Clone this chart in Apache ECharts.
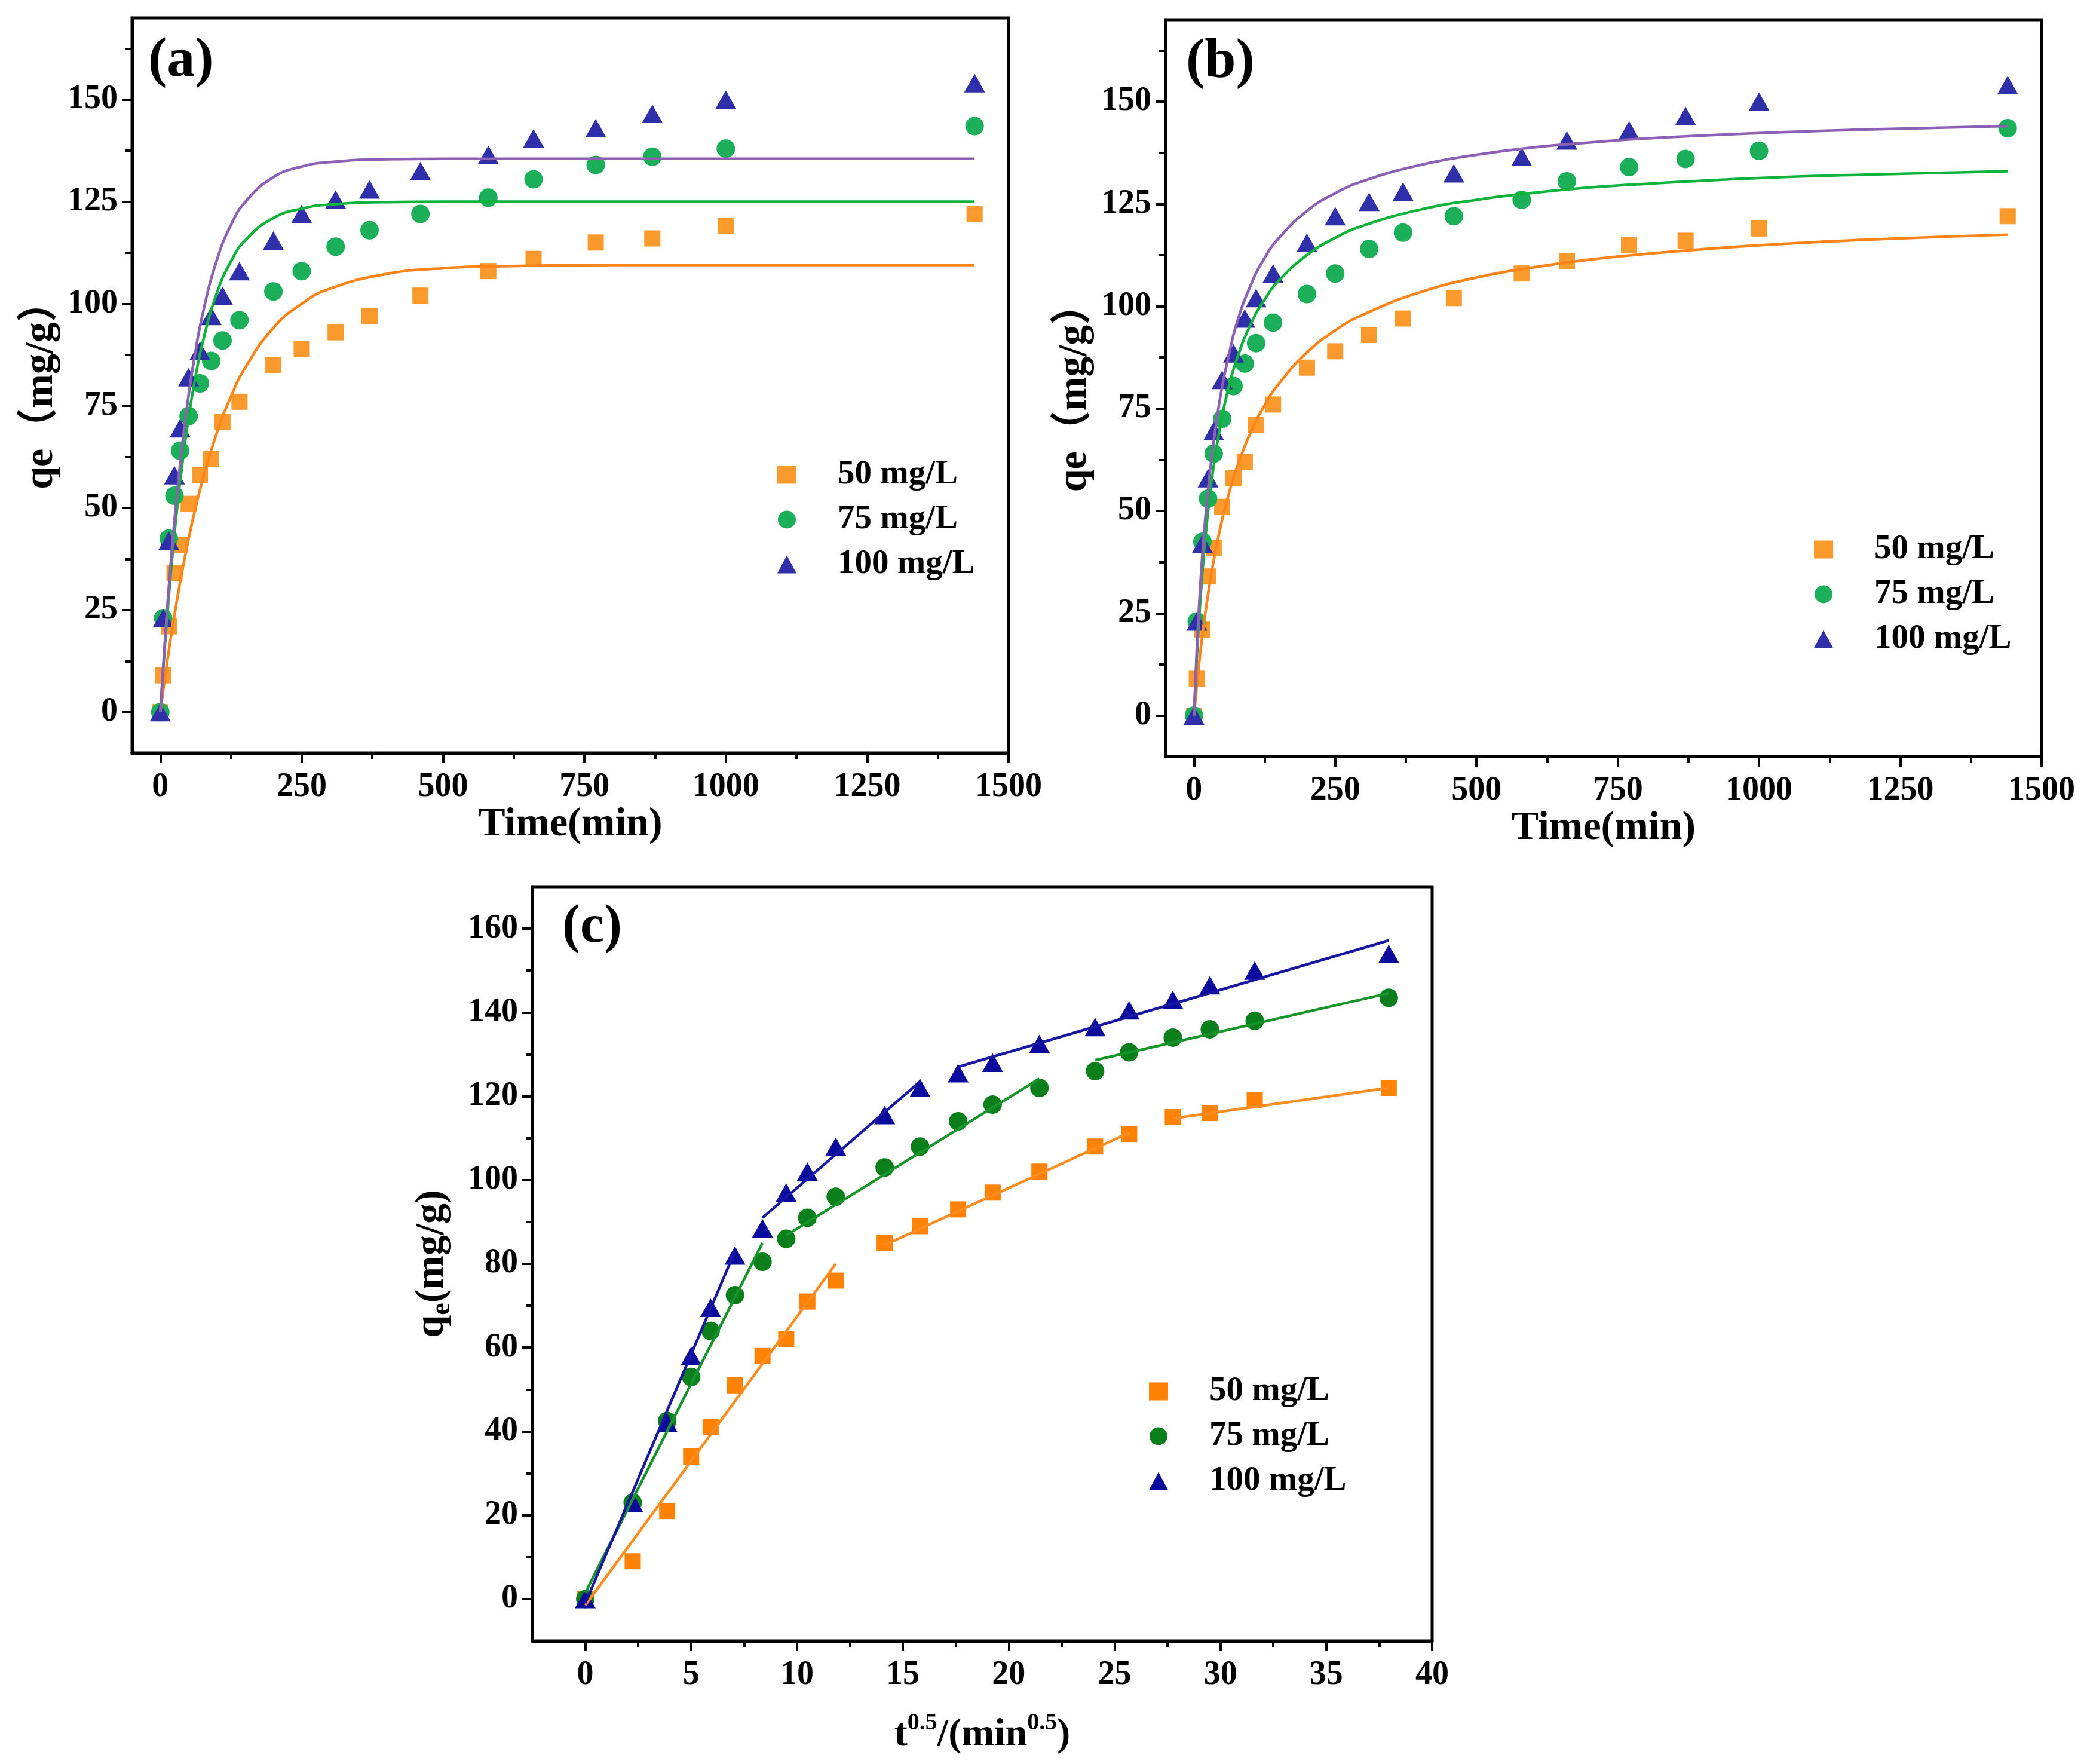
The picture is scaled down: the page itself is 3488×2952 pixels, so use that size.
<!DOCTYPE html>
<html>
  <head>
    <meta charset="utf-8">
    <title>Adsorption kinetics</title>
    <style>
      html, body { margin: 0; padding: 0; background: #fff; }
      #chart { width: 3488px; height: 2952px; }
    </style>
  </head>
  <body>
    <div id="chart"></div>
    <script src="https://cdn.jsdelivr.net/npm/echarts@6/dist/echarts.min.js"></script>
    <script>
      // measured points
      var timeMin = [0, 5, 15, 25, 35, 50, 70, 90, 110, 140, 200, 250, 310, 370, 460, 580, 660, 770, 870, 1000, 1440];
      var sqrtTime = [0, 2.24, 3.87, 5, 5.92, 7.07, 8.37, 9.49, 10.49, 11.83, 14.14, 15.81, 17.61, 19.24, 21.45, 24.08, 25.69, 27.75, 29.5, 31.62, 37.95];
      var q50 = [0, 9, 21, 34, 41, 51, 58, 62, 71, 76, 85, 89, 93, 97, 102, 108, 111, 115, 116, 119, 122];
      var q75 = [0, 23, 42.5, 53, 64, 72.5, 80.5, 86, 91, 96, 103, 108, 114, 118, 122, 126, 130.5, 134, 136, 138, 143.5];
      var q100 = [0, 23, 42, 58, 69.5, 82, 88.5, 97, 102, 108, 115.5, 122, 125.5, 128, 132.5, 136.5, 140.5, 143, 146.5, 150, 154];

      // fitted curves (a) and (b)
      var fitTime = [0, 5, 10, 15, 20, 30, 40, 50, 60, 75, 100, 125, 150, 200, 250, 300, 400, 500, 600, 700, 800, 1000, 1200, 1440];
      var pfo50 = [0, 5.2, 10.2, 15.0, 19.5, 27.9, 35.5, 42.4, 48.7, 57.0, 68.4, 77.3, 84.3, 94.1, 100.0, 103.7, 107.3, 108.7, 109.2, 109.4, 109.5, 109.5, 109.5, 109.5];
      var pfo75 = [0, 10.3, 19.8, 28.4, 36.4, 50.4, 62.1, 72.1, 80.5, 90.6, 102.6, 110.4, 115.5, 121.0, 123.3, 124.3, 124.9, 125, 125, 125, 125, 125, 125, 125];
      var pfo100 = [0, 11.0, 21.2, 30.5, 39.0, 54.1, 66.9, 77.6, 86.6, 97.6, 110.7, 119.3, 124.9, 131.0, 133.6, 134.7, 135.4, 135.5, 135.5, 135.5, 135.5, 135.5, 135.5, 135.5];
      var pso50 = [0, 7.3, 13.9, 19.7, 24.9, 34.0, 41.5, 47.9, 53.3, 60.2, 69.1, 75.8, 81.0, 88.7, 94.1, 98.0, 103.4, 107.0, 109.5, 111.4, 112.8, 114.9, 116.3, 117.5];
      var pso75 = [0, 14.1, 25.6, 35.1, 43.2, 55.9, 65.6, 73.3, 79.4, 86.7, 95.5, 101.6, 106.2, 112.5, 116.7, 119.7, 123.6, 126.0, 127.7, 129.0, 129.9, 131.3, 132.2, 133.0];
      var pso100 = [0, 16.0, 28.8, 39.5, 48.0, 61.5, 72.0, 80.5, 87.0, 95.5, 105.0, 111.8, 116.6, 123.3, 127.6, 130.6, 134.5, 137.0, 138.8, 140.0, 141.0, 142.3, 143.2, 144.0];

      // intraparticle diffusion segments of panel (c): [x, y] end points
      var ipd50 = [[[0, -1.5], [11.83, 80]], [[14.14, 84.5], [25.69, 111.3]], [[27.75, 114.7], [37.95, 122]]];
      var ipd75 = [[[0, 1.5], [8.37, 85]], [[9.49, 86.8], [21.45, 124.2]], [[24.08, 128.6], [37.95, 144.6]]];
      var ipd100 = [[[0, -1], [7.07, 83]], [[8.37, 91], [15.81, 123.5]], [[17.61, 127], [37.95, 157.2]]];

      // ticks
      var timeTicks = [0, 250, 500, 750, 1000, 1250, 1500];
      var timeMinor = [125, 375, 625, 875, 1125, 1375];
      var qTicks = [0, 25, 50, 75, 100, 125, 150];
      var qMinor = [12.5, 37.5, 62.5, 87.5, 112.5, 137.5, 162.5];
      var rootTicks = [0, 5, 10, 15, 20, 25, 30, 35, 40];
      var rootMinor = [2.5, 7.5, 12.5, 17.5, 22.5, 27.5, 32.5, 37.5];
      var qcTicks = [0, 20, 40, 60, 80, 100, 120, 140, 160];
      var qcMinor = [10, 30, 50, 70, 90, 110, 130, 150];

      var FONT = '"Liberation Serif", "Times New Roman", "Noto Sans CJK SC", serif';
      var LABEL_OF = {};

      function pairs(xs, ys) {
        return xs.map(function (x, i) { return [x, ys[i]]; });
      }

      // one axis with labels + one bare axis carrying the short minor ticks
      function axisPair(g, pos, min, max, ticks, minor, name, nameGap, nameStyle) {
        var isY = pos === 'left';
        var major = {
          type: 'value', gridIndex: g, position: pos, min: min, max: max,
          axisLine: { show: true, onZero: false, lineStyle: { color: '#000', width: 5 } },
          axisTick: { show: true, inside: false, length: 17, customValues: ticks, lineStyle: { color: '#000', width: 4 } },
          axisLabel: {
            show: true, customValues: ticks, margin: isY ? 24 : 30,
            formatter: function (v) { return String(v); },
            fontFamily: FONT, fontWeight: 'bold', fontSize: 56, color: '#000'
          },
          splitLine: { show: false },
          name: name, nameLocation: 'middle', nameGap: nameGap, nameRotate: isY ? 90 : 0,
          nameTextStyle: nameStyle
        };
        var small = {
          type: 'value', gridIndex: g, position: pos, min: min, max: max,
          axisLine: { show: true, onZero: false, lineStyle: { color: '#000', width: 5, opacity: 0 } },
          axisTick: { show: true, inside: false, length: 11, customValues: minor, lineStyle: { color: '#000', width: 4 } },
          axisLabel: { show: true, customValues: minor, formatter: function () { return ''; } },
          splitLine: { show: false }
        };
        return [major, small];
      }

      var titleStyle = { fontFamily: FONT, fontWeight: 'bold', fontSize: 68, color: '#000' };
      var richY = {
        rich: {
          q: { fontFamily: FONT, fontWeight: 'bold', fontSize: 68, color: '#000', lineHeight: 80 },
          s: { fontFamily: FONT, fontWeight: 'bold', fontSize: 46, color: '#000', lineHeight: 50, verticalAlign: 'bottom' }
        }
      };
      var richX = {
        rich: {
          t: { fontFamily: FONT, fontWeight: 'bold', fontSize: 66, color: '#000', lineHeight: 80 },
          s: { fontFamily: FONT, fontWeight: 'bold', fontSize: 40, color: '#000', lineHeight: 44, verticalAlign: 'top' }
        }
      };

      var xa = axisPair(0, 'bottom', -50, 1500, timeTicks, timeMinor, 'Time(min)', 75, titleStyle);
      var ya = axisPair(0, 'left', -10, 170, qTicks, qMinor, 'qe（mg/g）', 118, titleStyle);
      var xb = axisPair(1, 'bottom', -50, 1500, timeTicks, timeMinor, 'Time(min)', 75, titleStyle);
      var yb = axisPair(1, 'left', -10, 170, qTicks, qMinor, 'qe（mg/g）', 118, titleStyle);
      var xc = axisPair(2, 'bottom', -2.5, 40, rootTicks, rootMinor, '{t|t}{s|0.5}{t|/(min}{s|0.5}{t|)}', 118, richX);
      var yc = axisPair(2, 'left', -10, 170, qcTicks, qcMinor, '{q|q}{s|e}{q|(mg/g)}', 128, richY);

      var series = [];

      function addScatter(id, label, axis, xs, ys, symbol, size, color) {
        LABEL_OF[id] = label;
        series.push({
          name: id, type: 'scatter', xAxisIndex: axis, yAxisIndex: axis,
          data: pairs(xs, ys), symbol: symbol, symbolSize: size,
          itemStyle: { color: color, opacity: 1 }, z: 2
        });
      }
      function addLine(id, axis, data, color, smooth) {
        series.push({
          name: id, type: 'line', xAxisIndex: axis, yAxisIndex: axis,
          data: data, showSymbol: false, symbol: 'none',
          smooth: smooth,
          lineStyle: { color: color, width: 4.5 }, itemStyle: { color: color }, z: 3
        });
      }

      // panel (a): pseudo-first-order
      addScatter('a50', '50 mg/L', 0, timeMin, q50, 'rect', 27, '#FB9A2C');
      addScatter('a75', '75 mg/L', 0, timeMin, q75, 'circle', 31, '#1BAF5A');
      addScatter('a100', '100 mg/L', 0, timeMin, q100, 'triangle', [35, 31], '#2F2FAA');
      addLine('fa50', 0, pairs(fitTime, pfo50), '#FF8418', 0.5);
      addLine('fa75', 0, pairs(fitTime, pfo75), '#0DB33A', 0.5);
      addLine('fa100', 0, pairs(fitTime, pfo100), '#8C60B4', 0.5);

      // panel (b): pseudo-second-order
      addScatter('b50', '50 mg/L', 2, timeMin, q50, 'rect', 27, '#FB9A2C');
      addScatter('b75', '75 mg/L', 2, timeMin, q75, 'circle', 31, '#1BAF5A');
      addScatter('b100', '100 mg/L', 2, timeMin, q100, 'triangle', [35, 31], '#2F2FAA');
      addLine('fb50', 2, pairs(fitTime, pso50), '#FF8418', 0.5);
      addLine('fb75', 2, pairs(fitTime, pso75), '#0DB33A', 0.5);
      addLine('fb100', 2, pairs(fitTime, pso100), '#8C60B4', 0.5);

      // panel (c): intraparticle diffusion
      addScatter('c50', '50 mg/L', 4, sqrtTime, q50, 'rect', 27, '#FF8205');
      addScatter('c75', '75 mg/L', 4, sqrtTime, q75, 'circle', 31, '#0A7F1C');
      addScatter('c100', '100 mg/L', 4, sqrtTime, q100, 'triangle', [35, 31], '#0A0A9C');
      ipd50.forEach(function (seg, i) { addLine('ic50_' + i, 4, seg, '#FF8C1F', false); });
      ipd75.forEach(function (seg, i) { addLine('ic75_' + i, 4, seg, '#17952A', false); });
      ipd100.forEach(function (seg, i) { addLine('ic100_' + i, 4, seg, '#1717A2', false); });

      function makeLegend(ids, left, top) {
        return {
          orient: 'vertical', left: left, top: top, padding: 0,
          itemWidth: 32, itemHeight: 30, itemGap: 18, selectedMode: false,
          data: ids,
          formatter: function (n) { return '{t|' + LABEL_OF[n] + '}'; },
          textStyle: {
            rich: {
              t: { fontFamily: FONT, fontWeight: 'bold', fontSize: 57, color: '#000', lineHeight: 60, padding: [0, 0, 0, 64] }
            }
          }
        };
      }

      function panelLabel(text, left, top, size) {
        return {
          type: 'text', left: left, top: top,
          style: { text: text, fontFamily: FONT, fontWeight: 'bold', fontSize: size, fill: '#000' }
        };
      }

      var gridStyle = { show: true, borderColor: '#000', borderWidth: 5, backgroundColor: 'transparent', outerBoundsMode: 'none' };

      var option = {
        animation: false,
        backgroundColor: '#fff',
        grid: [
          Object.assign({ left: 221, top: 30, width: 1467, height: 1230 }, gridStyle),
          Object.assign({ left: 1951, top: 33, width: 1466, height: 1233 }, gridStyle),
          Object.assign({ left: 891, top: 1484, width: 1506, height: 1262 }, gridStyle)
        ],
        xAxis: xa.concat(xb, xc),
        yAxis: ya.concat(yb, yc),
        legend: [
          makeLegend(['a50', 'a75', 'a100'], 1301, 766),
          makeLegend(['b50', 'b75', 'b100'], 3036, 891),
          makeLegend(['c50', 'c75', 'c100'], 1923, 2300)
        ],
        graphic: [
          panelLabel('(a)', 248, 56, 94),
          panelLabel('(b)', 1985, 58, 94),
          panelLabel('(c)', 941, 1508, 90)
        ],
        series: series
      };

      var chart = echarts.init(document.getElementById('chart'));
      chart.setOption(option);
    </script>
  </body>
</html>
